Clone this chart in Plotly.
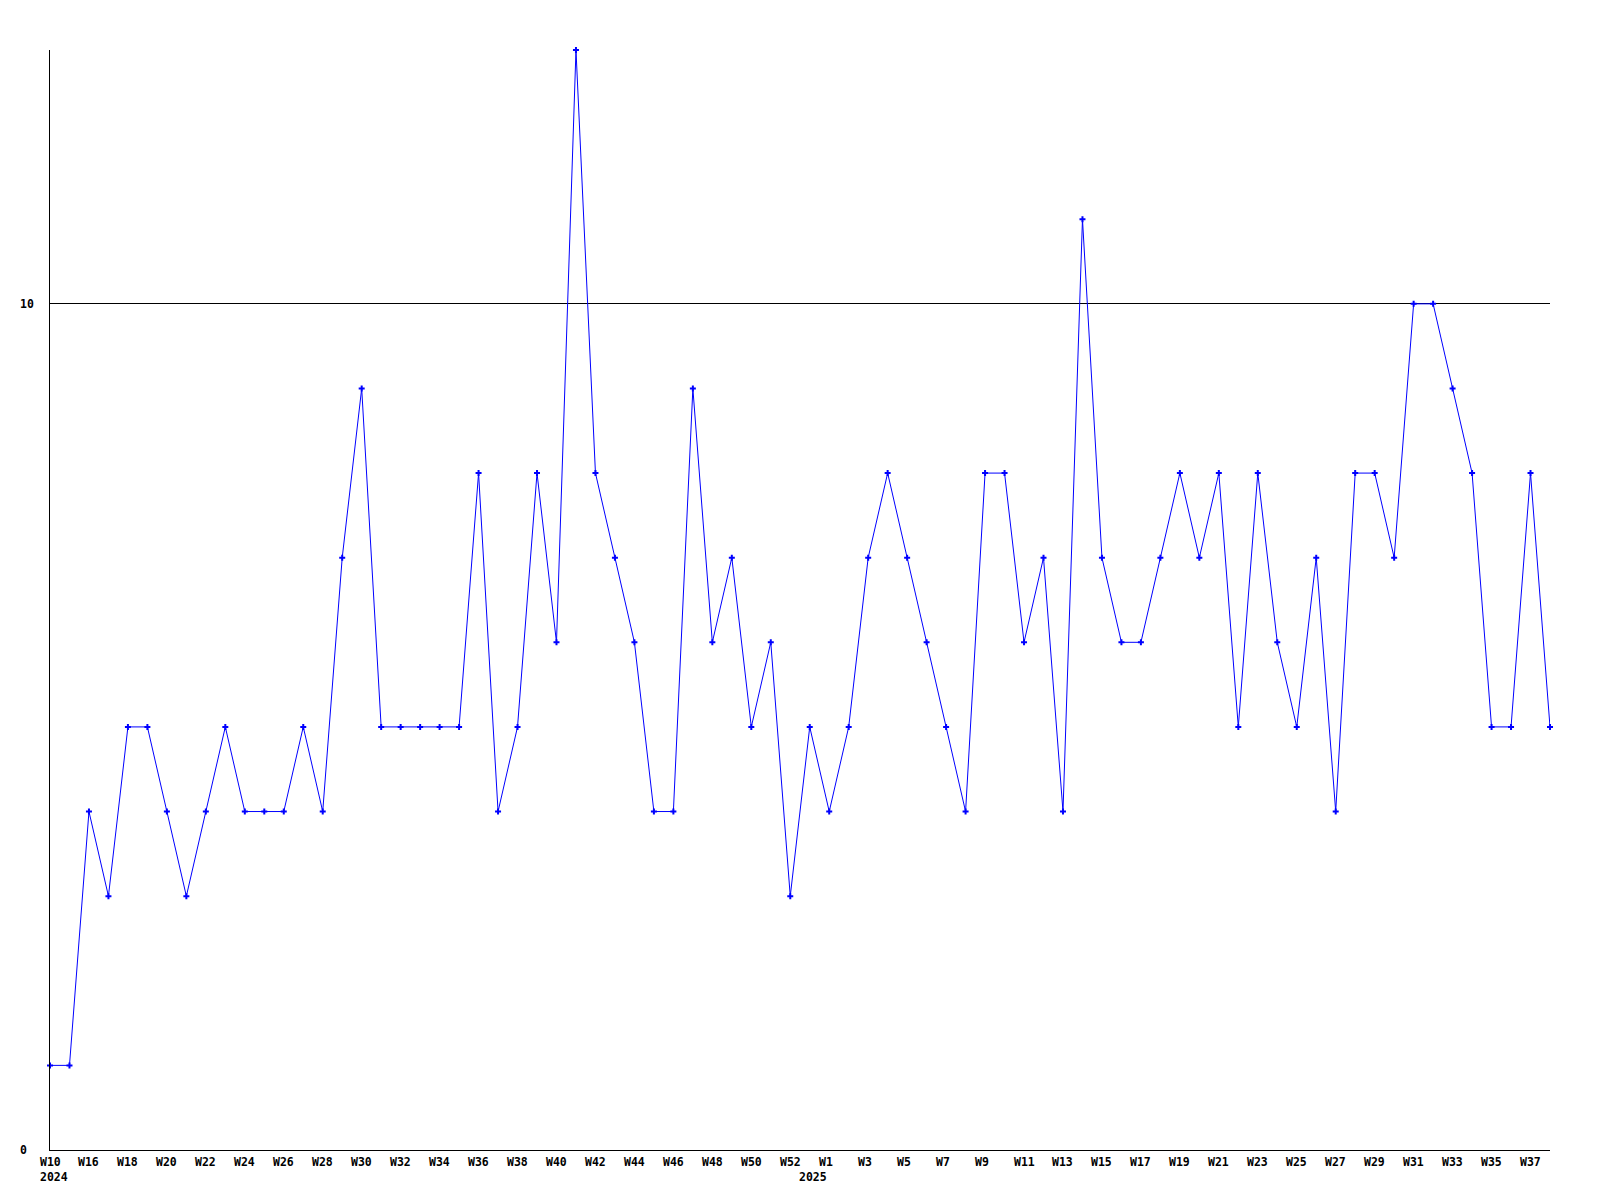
import plotly.graph_objects as go

# ---- data ----
weeks_2024 = ["W10", "W15"] + [f"W{n}" for n in range(16, 53)]
weeks_2025 = [f"W{n}" for n in range(0, 39)]
categories = [f"2024-{w}" for w in weeks_2024] + [f"2025-{w}" for w in weeks_2025]
week_labels = weeks_2024 + weeks_2025

values = [1, 1, 4, 3, 5, 5, 4, 3, 4, 5,
          4, 4, 4, 5, 4, 7, 9, 5, 5, 5,
          5, 5, 8, 4, 5, 8, 6, 13, 8, 7,
          6, 4, 4, 9, 6, 7, 5, 6, 3, 5,
          4, 5, 7, 8, 7, 6, 5, 4, 8, 8,
          6, 7, 4, 11, 7, 6, 6, 7, 8, 7,
          8, 5, 8, 6, 5, 7, 4, 8, 8, 7,
          10, 10, 9, 8, 5, 5, 8, 5]

y_ticks = [0, 10]
year_labels = {"2024-W10": "2024", "2025-W0": "2025"}

FONT = dict(family="DejaVu Sans Mono", size=11.5, color="black", weight="bold")

fig = go.Figure()
fig.add_trace(go.Scatter(
    x=categories, y=values, mode="lines+markers",
    line=dict(color="#0000ff", width=1),
    marker=dict(symbol="cross", size=5, color="#0000ff",
                line=dict(width=0)),
    cliponaxis=False, showlegend=False, hoverinfo="x+y",
))

annotations = []
for i in range(0, len(categories), 2):
    annotations.append(dict(
        x=categories[i], y=-0.0109, xref="x", yref="paper",
        text=week_labels[i], showarrow=False, xanchor="left", yanchor="middle",
        xshift=-12.5, font=FONT))
for cat, yr in year_labels.items():
    annotations.append(dict(
        x=cat, y=-0.0245, xref="x", yref="paper",
        text=yr, showarrow=False, xanchor="left", yanchor="middle",
        xshift=-12.5, font=FONT))
for t in y_ticks:
    annotations.append(dict(
        x=-0.02, y=t, xref="paper", yref="y",
        text=str(t), showarrow=False, xanchor="left", yanchor="middle",
        xshift=-2, font=FONT))

fig.update_layout(
    width=1600, height=1200,
    margin=dict(l=42, r=58, t=42, b=58),
    paper_bgcolor="white", plot_bgcolor="white",
    font=FONT,
    xaxis=dict(type="category", categoryorder="array", categoryarray=categories,
               range=[0, len(categories) - 1], showgrid=False, zeroline=False,
               showline=True, linecolor="black", linewidth=1,
               showticklabels=False, ticks=""),
    yaxis=dict(range=[0, 13], tickvals=y_ticks, showticklabels=False,
               showgrid=True, gridcolor="black", gridwidth=1, zeroline=False,
               showline=True, linecolor="black", linewidth=1, ticks=""),
    annotations=annotations,
)

fig.write_html("out.html")
